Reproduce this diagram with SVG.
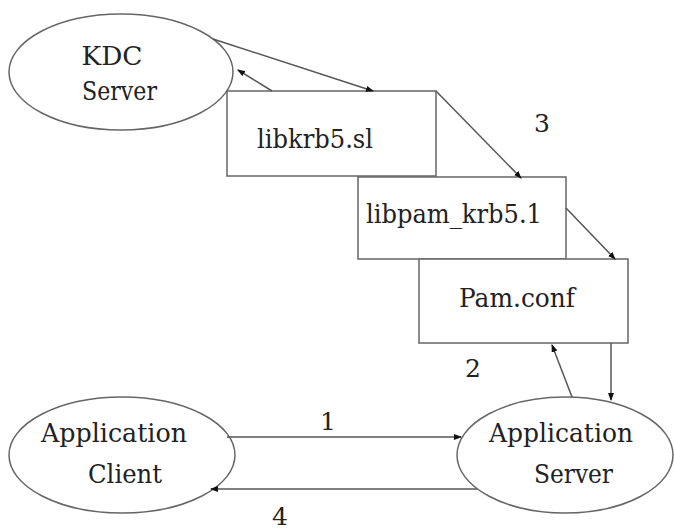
<svg xmlns="http://www.w3.org/2000/svg" width="674" height="532" viewBox="0 0 674 532">
<style>
.node{fill:#fff;stroke:#666;stroke-width:1.5}
text{font-family:'DejaVu Serif',serif;fill:#222;text-anchor:middle}
.t{font-size:26px}
.n{font-size:25px}
.c{fill:none;stroke:#555;stroke-width:1.5;marker-end:url(#ah)}
</style>
<defs>
<marker id="ah" markerWidth="8" markerHeight="6" refX="7" refY="3" orient="auto" markerUnits="userSpaceOnUse">
<path d="M0,0 L8,3 L0,6 Z" fill="#111"/>
</marker>
</defs>
<rect width="674" height="532" fill="#fff"/>
<g id="kdc">
<ellipse class="node" cx="121" cy="72" rx="112" ry="58"/>
<text class="t" x="112" y="65" textLength="61" lengthAdjust="spacingAndGlyphs">KDC</text>
<text class="t" x="119.5" y="100" textLength="75" lengthAdjust="spacingAndGlyphs">Server</text>
</g>
<g id="libkrb5">
<rect class="node" x="227" y="91" width="209" height="85"/>
<text class="t" x="315" y="148" textLength="116" lengthAdjust="spacingAndGlyphs">libkrb5.sl</text>
</g>
<g id="libpam">
<rect class="node" x="358" y="177" width="208" height="82"/>
<text class="t" x="454" y="223" textLength="176" lengthAdjust="spacingAndGlyphs">libpam_krb5.1</text>
</g>
<g id="pamconf">
<rect class="node" x="419" y="259" width="209" height="84"/>
<text class="t" x="517" y="307" textLength="116" lengthAdjust="spacingAndGlyphs">Pam.conf</text>
</g>
<g id="appclient">
<ellipse class="node" cx="122" cy="455" rx="113" ry="58"/>
<text class="t" x="114" y="442" textLength="146" lengthAdjust="spacingAndGlyphs">Application</text>
<text class="t" x="125" y="483" textLength="74" lengthAdjust="spacingAndGlyphs">Client</text>
</g>
<g id="appserver">
<ellipse class="node" cx="565" cy="455" rx="108" ry="58"/>
<text class="t" x="561" y="442" textLength="144" lengthAdjust="spacingAndGlyphs">Application</text>
<text class="t" x="573.5" y="483" textLength="79" lengthAdjust="spacingAndGlyphs">Server</text>
</g>
<g id="connectors">
<line class="c" x1="213" y1="39" x2="373" y2="91"/>
<line class="c" x1="272" y1="91" x2="238" y2="70"/>
<line class="c" x1="436" y1="91" x2="521" y2="178"/>
<line class="c" x1="566" y1="208" x2="615" y2="259"/>
<line class="c" x1="611" y1="343" x2="611" y2="400"/>
<line class="c" x1="572" y1="397" x2="552" y2="345"/>
<line class="c" x1="227" y1="437" x2="461" y2="437"/>
<line class="c" x1="477" y1="489" x2="211" y2="489"/>
</g>
<g id="labels">
<text class="n" x="542" y="132">3</text>
<text class="n" x="473" y="377">2</text>
<text class="n" x="328" y="430">1</text>
<text class="n" x="280" y="525">4</text>
</g>
</svg>
